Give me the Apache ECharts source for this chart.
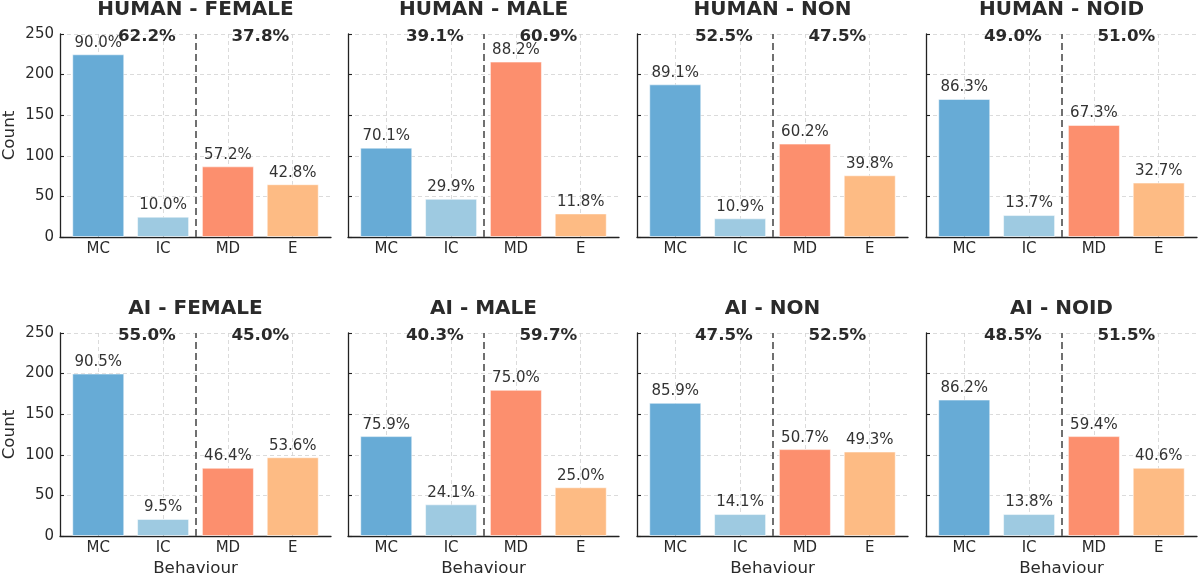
<!DOCTYPE html>
<html><head><meta charset="utf-8">
<script src="https://cdn.jsdelivr.net/npm/echarts@6/dist/echarts.min.js"></script>
<style>html,body{margin:0;padding:0;background:#fff}#c{width:1200px;height:579px}</style>
</head><body><div id="c"></div>
<script>
// ---- data ----
const categories = ['MC', 'IC', 'MD', 'E'];
const panelTitles = ['HUMAN - FEMALE', 'HUMAN - MALE', 'HUMAN - NON', 'HUMAN - NOID',
                     'AI - FEMALE', 'AI - MALE', 'AI - NON', 'AI - NOID'];
const humanFemale = [225, 25, 87, 65];
const humanMale   = [110, 47, 216, 29];
const humanNon    = [188, 23, 115, 76];
const humanNoid   = [170, 27, 138, 67];
const aiFemale    = [200, 21, 84, 97];
const aiMale      = [123, 39, 180, 60];
const aiNon       = [164, 27, 107, 104];
const aiNoid      = [168, 27, 123, 84];
const panelData = [humanFemale, humanMale, humanNon, humanNoid, aiFemale, aiMale, aiNon, aiNoid];
const yTicks = [0, 50, 100, 150, 200, 250];
const categoryPositions = [0, 1, 2, 3];

// ---- style / layout ----
const barColors = ['#67abd6', '#9ecae1', '#fc8f6e', '#fdbb84'];
const FONT = 'DejaVu Sans';
const TXT = '#2a2a2a';
const lefts = [60, 348, 637, 926];
const tops = [34, 333];
const W = 271, H = 203;
const xMin = -0.59, xMax = 3.59;
const groupLabelPos = [0.75, 2.5];

const grids = [], xAxes = [], yAxes = [], series = [], graphics = [];
panelData.forEach((vals, i) => {
  const col = i % 4, row = Math.floor(i / 4);
  const left = lefts[col], top = tops[row];
  grids.push({left: left, top: top, width: W, height: H, containLabel: false});
  const sumA = vals[0] + vals[1], sumB = vals[2] + vals[3], tot = sumA + sumB;
  const pct = [vals[0] / sumA, vals[1] / sumA, vals[2] / sumB, vals[3] / sumB]
    .map(p => (p * 100).toFixed(1) + '%');
  const groupPct = [sumA / tot, sumB / tot].map(p => (p * 100).toFixed(1) + '%');
  xAxes.push({
    gridIndex: i, type: 'value', min: xMin, max: xMax,
    name: row === 1 ? 'Behaviour' : '', nameLocation: 'middle', nameGap: 24,
    nameTextStyle: {fontFamily: FONT, fontSize: 16.7, color: TXT},
    axisLine: {show: true, onZero: false, lineStyle: {color: '#222', width: 1.3}},
    axisTick: {show: true, inside: true, length: 5, customValues: categoryPositions,
               lineStyle: {color: '#222', width: 1.1}},
    axisLabel: {customValues: categoryPositions, formatter: v => categories[Math.round(v)],
                fontFamily: FONT, fontSize: 15, color: TXT, margin: 5},
    splitLine: {show: true, lineStyle: {color: '#d2d2d2', type: [4, 3], width: 0.8}}
  });
  yAxes.push({
    gridIndex: i, type: 'value', min: yTicks[0], max: yTicks[yTicks.length - 1], interval: 50,
    name: col === 0 ? 'Count' : '', nameLocation: 'middle', nameGap: 42,
    nameTextStyle: {fontFamily: FONT, fontSize: 16.7, color: TXT},
    axisLine: {show: true, onZero: false, lineStyle: {color: '#222', width: 1.3}},
    axisTick: {show: true, inside: true, length: 4, lineStyle: {color: '#222', width: 1.1}},
    axisLabel: {show: col === 0, fontFamily: FONT, fontSize: 15, color: TXT, margin: 6},
    splitLine: {show: true, lineStyle: {color: '#d2d2d2', type: [4, 3], width: 0.8}}
  });
  series.push({
    type: 'bar', xAxisIndex: i, yAxisIndex: i, barWidth: 52,
    data: vals.map((v, k) => ({
      value: [categoryPositions[k], v],
      itemStyle: {color: barColors[k], borderColor: 'rgba(255,255,255,0.5)', borderWidth: 1},
      label: {formatter: pct[k]}
    })),
    label: {show: true, position: 'top', distance: 4, fontFamily: FONT, fontSize: 15, color: '#333'},
    markLine: {
      silent: true, symbol: ['none', 'none'], animation: false,
      label: {show: false},
      lineStyle: {color: '#707070', type: [7, 4], width: 2},
      data: [{xAxis: 1.5}]
    },
    animation: false
  });
  graphics.push({
    type: 'text', x: left + W / 2, y: top - 24,
    style: {text: panelTitles[i], font: 'bold 20px "' + FONT + '"', fill: TXT,
            textAlign: 'center', textVerticalAlign: 'middle', align: 'center', verticalAlign: 'middle'}
  });
  groupLabelPos.forEach((p, g) => {
    graphics.push({
      type: 'text', x: left + (p - xMin) / (xMax - xMin) * W, y: top + 3,
      z: 100,
      style: {text: groupPct[g], font: 'bold 16.7px "' + FONT + '"', fill: TXT,
              textAlign: 'center', textVerticalAlign: 'middle', align: 'center', verticalAlign: 'middle'}
    });
  });
});

const chart = echarts.init(document.getElementById('c'), null, {renderer: 'canvas'});
chart.setOption({
  animation: false,
  backgroundColor: '#fff',
  grid: grids, xAxis: xAxes, yAxis: yAxes, series: series, graphic: graphics
});
</script></body></html>
